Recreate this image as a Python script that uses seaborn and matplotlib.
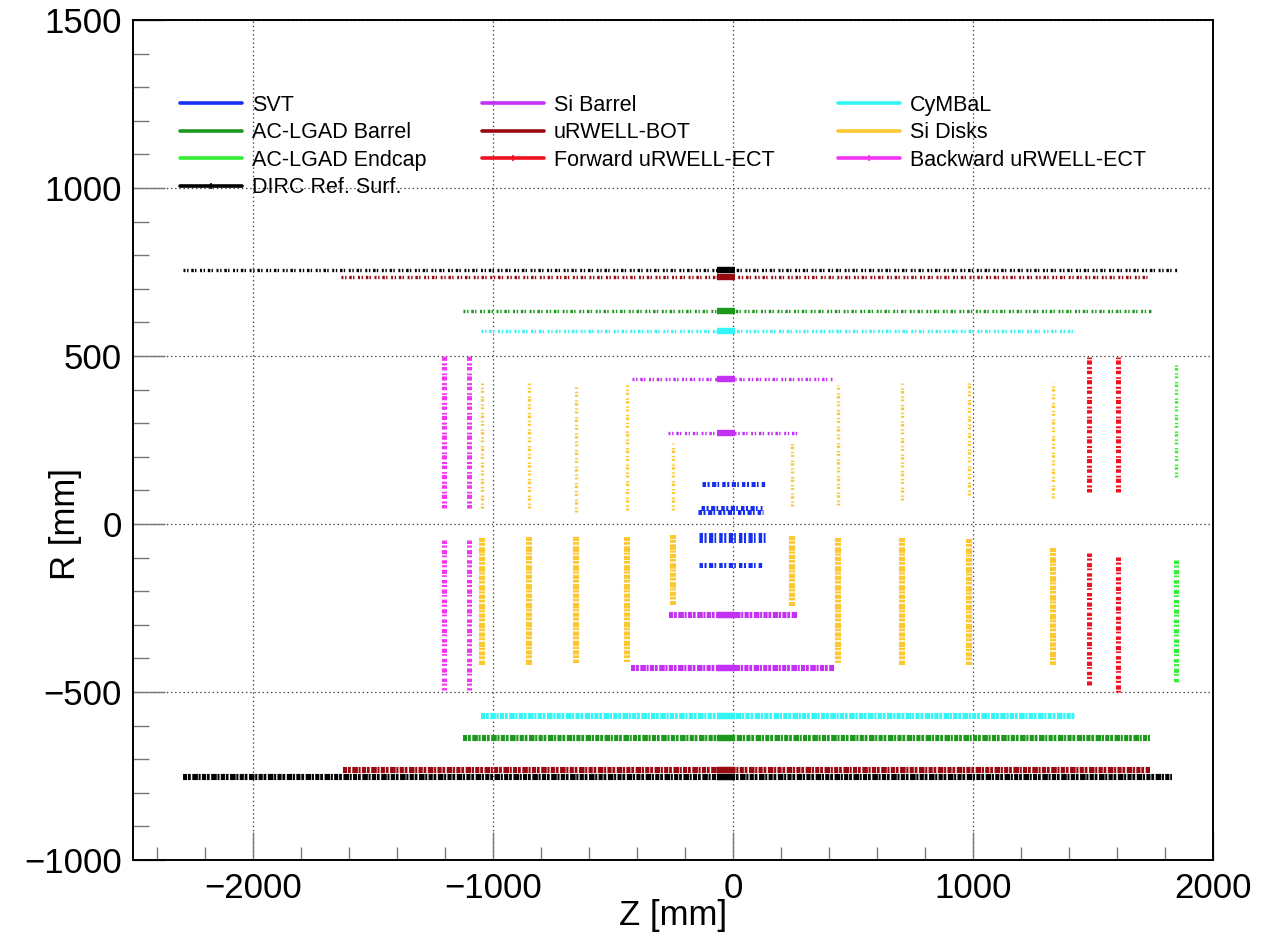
import numpy as np
import pandas as pd
import matplotlib
matplotlib.use("Agg")
import matplotlib.pyplot as plt
import seaborn as sns
from matplotlib.lines import Line2D
from matplotlib.ticker import MultipleLocator

# ---------------- data (mm) ----------------
# Barrel-type layers: hits along fixed R, spanning Z0..Z1
SVT_R = [119, 48, 35, -32, -47, -121]
SVT_Z0 = [-130, -135, -145, -140, -140, -140]
SVT_Z1 = [133, 122, 125, 135, 135, 125]

SIBARREL_R = [431, 271, -271, -429]
SIBARREL_Z0 = [-422, -270, -268, -425]
SIBARREL_Z1 = [412, 268, 268, 422]

CYMBAL_R = [574, -572]
CYMBAL_Z0 = [-1050, -1050]
CYMBAL_Z1 = [1422, 1425]

ACLGAD_BARREL_R = [634, -636]
ACLGAD_BARREL_Z0 = [-1127, -1127]
ACLGAD_BARREL_Z1 = [1742, 1738]

URWELL_BOT_R = [735, -731]
URWELL_BOT_Z0 = [-1634, -1626]
URWELL_BOT_Z1 = [1725, 1738]

DIRC_R = [756, -752]
DIRC_Z0 = [-2290, -2290]
DIRC_Z1 = [1852, 1830]

# dense hit core of the barrel layers around Z = 0
BARREL_CORE_Z = [-65, 10]

# Disk-type layers: hits along fixed Z, spanning R (upper and lower halves)
SIDISK_Z = [-1045, -848, -653, -443, -250, 245, 437, 703, 985, 1335]
SIDISK_TOP_R0 = [47, 47, 37, 42, 42, 55, 57, 70, 85, 77]
SIDISK_TOP_R1 = [419, 419, 408, 414, 241, 240, 414, 420, 420, 423]
SIDISK_BOT_R0 = [-42, -39, -39, -39, -33, -36, -42, -42, -45, -71]
SIDISK_BOT_R1 = [-420, -420, -414, -411, -241, -245, -414, -420, -420, -420]

BWD_URWELL_Z = [-1206, -1102]
BWD_URWELL_TOP_R0 = [47, 47]
BWD_URWELL_TOP_R1 = [503, 503]
BWD_URWELL_BOT_R0 = [-48, -48]
BWD_URWELL_BOT_R1 = [-494, -494]

FWD_URWELL_Z = [1484, 1605]
FWD_URWELL_TOP_R0 = [95, 95]
FWD_URWELL_TOP_R1 = [503, 503]
FWD_URWELL_BOT_R0 = [-86, -97]
FWD_URWELL_BOT_R1 = [-479, -500]

ACLGAD_ENDCAP_Z = [1846]
ACLGAD_ENDCAP_TOP_R0 = [140]
ACLGAD_ENDCAP_TOP_R1 = [479]
ACLGAD_ENDCAP_BOT_R0 = [-107]
ACLGAD_ENDCAP_BOT_R1 = [-473]

LEGEND_COLS = [
    ["SVT", "AC-LGAD Barrel", "AC-LGAD Endcap", "DIRC Ref. Surf."],
    ["Si Barrel", "uRWELL-BOT", "Forward uRWELL-ECT"],
    ["CyMBaL", "Si Disks", "Backward uRWELL-ECT"],
]

# ---------------- styles ----------------
COLORS = {
    "SVT": "#1530f0",
    "Si Barrel": "#c530f5",
    "CyMBaL": "#33f5f5",
    "AC-LGAD Barrel": "#1c991c",
    "uRWELL-BOT": "#990a10",
    "Si Disks": "#fcc832",
    "AC-LGAD Endcap": "#33f033",
    "Forward uRWELL-ECT": "#f01020",
    "Backward uRWELL-ECT": "#f533f5",
    "DIRC Ref. Surf.": "#000000",
}
SPARSE = dict(lw=2.4, ls=(0, (1.4, 1.2, 1.0, 2.0, 1.8, 0.9, 1.0, 2.6)))
DENSE = dict(lw=4.4, ls=(0, (3, 0.6, 2, 1.1, 4, 0.5, 1.5, 0.9)))
MEDIUM = dict(lw=3.6, ls=(0, (2.5, 1.1, 1.5, 1.8, 3.0, 0.9, 1.2, 2.2)))
SOLID = dict(lw=4.6, ls="-")

# ---------------- build long-form table ----------------
rows = []
seg = [0]


def add(det, kind, zs, rs):
    seg[0] += 1
    for z, r in zip(zs, rs):
        rows.append(dict(det=det, kind=kind, seg=seg[0], z=z, r=r))


barrels = [
    ("SVT", SVT_R, SVT_Z0, SVT_Z1),
    ("Si Barrel", SIBARREL_R, SIBARREL_Z0, SIBARREL_Z1),
    ("CyMBaL", CYMBAL_R, CYMBAL_Z0, CYMBAL_Z1),
    ("AC-LGAD Barrel", ACLGAD_BARREL_R, ACLGAD_BARREL_Z0, ACLGAD_BARREL_Z1),
    ("uRWELL-BOT", URWELL_BOT_R, URWELL_BOT_Z0, URWELL_BOT_Z1),
    ("DIRC Ref. Surf.", DIRC_R, DIRC_Z0, DIRC_Z1),
]
for det, R, Z0, Z1 in barrels:
    for r, z0, z1 in zip(R, Z0, Z1):
        if det == "SVT":
            kind = "medium"
        else:
            kind = "sparse" if r > 0 else "dense"
        add(det, kind, [z0, z1], [r, r])
        if det != "SVT":
            add(det, "core", BARREL_CORE_Z, [r, r])

disks = [
    ("Si Disks", SIDISK_Z, SIDISK_TOP_R0, SIDISK_TOP_R1, SIDISK_BOT_R0, SIDISK_BOT_R1, "sparse", "dense"),
    ("Backward uRWELL-ECT", BWD_URWELL_Z, BWD_URWELL_TOP_R0, BWD_URWELL_TOP_R1,
     BWD_URWELL_BOT_R0, BWD_URWELL_BOT_R1, "medium", "medium"),
    ("Forward uRWELL-ECT", FWD_URWELL_Z, FWD_URWELL_TOP_R0, FWD_URWELL_TOP_R1,
     FWD_URWELL_BOT_R0, FWD_URWELL_BOT_R1, "medium", "medium"),
    ("AC-LGAD Endcap", ACLGAD_ENDCAP_Z, ACLGAD_ENDCAP_TOP_R0, ACLGAD_ENDCAP_TOP_R1,
     ACLGAD_ENDCAP_BOT_R0, ACLGAD_ENDCAP_BOT_R1, "sparse", "medium"),
]
for det, Z, T0, T1, B0, B1, ktop, kbot in disks:
    for z, t0, t1, b0, b1 in zip(Z, T0, T1, B0, B1):
        add(det, ktop, [z, z], [t0, t1])
        add(det, kbot, [z, z], [b0, b1])

df = pd.DataFrame(rows)
KIND_STYLE = {"sparse": SPARSE, "dense": DENSE, "medium": MEDIUM, "core": SOLID}

# ---------------- figure ----------------
sns.set_theme(style="white")
plt.rcParams["font.family"] = ["Liberation Sans", "DejaVu Sans"]
plt.rcParams["lines.scale_dashes"] = False
plt.rcParams["text.color"] = "black"
plt.rcParams["axes.labelcolor"] = "black"

fig = plt.figure(figsize=(12.71, 9.36), dpi=100)
ax = fig.add_axes([133 / 1271, 1 - 860 / 936, (1213 - 133) / 1271, (860 - 20) / 936])

for (det, kind), sub in df.groupby(["det", "kind"], sort=False):
    st = KIND_STYLE[kind]
    sns.lineplot(data=sub, x="z", y="r", units="seg", estimator=None, sort=False,
                 color=COLORS[det], linewidth=st["lw"], linestyle=st["ls"],
                 legend=False, ax=ax, solid_capstyle="butt", dash_capstyle="butt")

ax.set_xlim(-2500, 2000)
ax.set_ylim(-1000, 1500)
ax.xaxis.set_major_locator(MultipleLocator(1000))
ax.xaxis.set_minor_locator(MultipleLocator(200))
ax.yaxis.set_major_locator(MultipleLocator(500))
ax.yaxis.set_minor_locator(MultipleLocator(100))
ax.grid(True, which="major", color="#444444", linestyle=(0, (1, 2)), linewidth=0.9)
ax.set_axisbelow(True)

ax.tick_params(axis="both", which="both", direction="in", colors="#777777",
               labelcolor="black", labelsize=25, top=False, right=False,
               bottom=True, left=True)
ax.tick_params(axis="x", which="major", length=20, width=1.0, pad=9)
ax.tick_params(axis="x", which="minor", length=9.5, width=1.0)
ax.tick_params(axis="y", which="major", length=23, width=1.0, pad=8)
ax.tick_params(axis="y", which="minor", length=11.5, width=1.0)
for s in ax.spines.values():
    s.set_color("black")
    s.set_linewidth(1.4)

ax.set_xlabel("Z [mm]", fontsize=25, color="black")
ax.set_ylabel("R [mm]", fontsize=25, color="black")
ax.xaxis.set_label_coords(0.5, -0.046)
ax.yaxis.set_label_coords(-0.047, 0.40)

# legend: three columns placed separately
marker_dets = {"Forward uRWELL-ECT", "Backward uRWELL-ECT", "DIRC Ref. Surf."}
col_x = [180, 482, 838]
for cx, names in zip(col_x, LEGEND_COLS):
    handles = []
    for n in names:
        if n in marker_dets:
            h = Line2D([], [], color=COLORS[n], lw=2.6, marker="|", markersize=4,
                       markeredgewidth=1.2)
        else:
            h = Line2D([], [], color=COLORS[n], lw=2.6)
        handles.append(h)
    leg = fig.legend(handles, names, loc="upper left",
                     bbox_to_anchor=(cx / 1271, 1 - 95 / 936),
                     frameon=False, fontsize=15.5, handlelength=2.9, handletextpad=0.45,
                     labelspacing=0.30, borderpad=0, borderaxespad=0)
    for t in leg.get_texts():
        t.set_color("black")

fig.savefig("out.png", dpi=100)
